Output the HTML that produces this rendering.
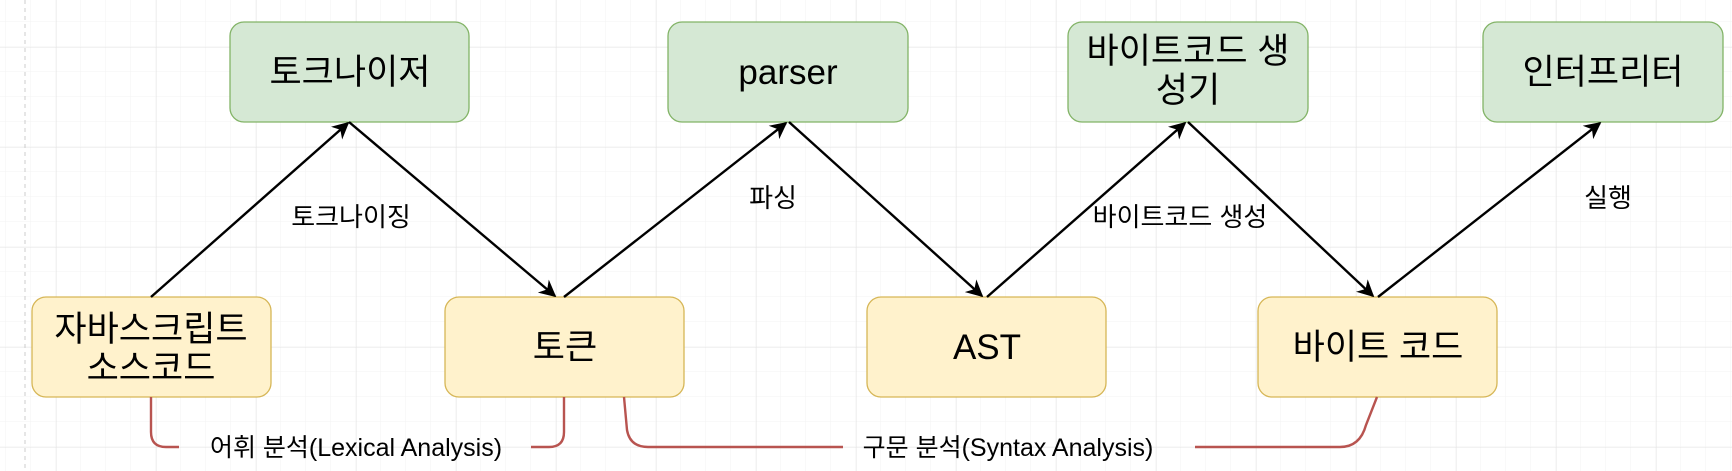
<!DOCTYPE html>
<html><head><meta charset="utf-8"><style>
html,body{margin:0;padding:0;background:#fff;}
svg{display:block}
text{font-family:"Liberation Sans","Noto Sans CJK KR",sans-serif;fill:#000}
</style></head><body>
<svg width="1732" height="471" viewBox="0 0 1732 471" xmlns="http://www.w3.org/2000/svg">
<defs>
<pattern id="minor" width="25" height="25" patternUnits="userSpaceOnUse" x="6" y="22">
<path d="M25 0V25M0 25H25" stroke="#f3f3f3" stroke-width="1" fill="none"/>
</pattern>
<pattern id="major" width="100" height="100" patternUnits="userSpaceOnUse" x="56" y="47">
<path d="M0 0V100M0 0H100" stroke="#e4e4e4" stroke-width="1" fill="none"/>
</pattern>
<marker id="ah" viewBox="0 0 10 10" refX="9" refY="5" markerWidth="17" markerHeight="17" markerUnits="userSpaceOnUse" orient="auto">
<path d="M0 0L10 5L0 10L3 5Z" fill="#000"/>
</marker>
</defs>
<rect width="1732" height="471" fill="url(#minor)"/>
<rect width="1732" height="471" fill="url(#major)"/>
<line x1="25" y1="0" x2="25" y2="471" stroke="#ccc" stroke-dasharray="4 4"/>

<g stroke-width="1.3">
<rect x="230" y="22" width="239" height="100" rx="14" fill="#d5e8d4" stroke="#82b366"/>
<rect x="668" y="22" width="240" height="100" rx="14" fill="#d5e8d4" stroke="#82b366"/>
<rect x="1068" y="22" width="240" height="100" rx="14" fill="#d5e8d4" stroke="#82b366"/>
<rect x="1483" y="22" width="240" height="100" rx="14" fill="#d5e8d4" stroke="#82b366"/>
<rect x="32" y="297" width="239" height="100" rx="14" fill="#fff2cc" stroke="#d6b656"/>
<rect x="445" y="297" width="239" height="100" rx="14" fill="#fff2cc" stroke="#d6b656"/>
<rect x="867" y="297" width="239" height="100" rx="14" fill="#fff2cc" stroke="#d6b656"/>
<rect x="1258" y="297" width="239" height="100" rx="14" fill="#fff2cc" stroke="#d6b656"/>
</g>

<g stroke="#000" stroke-width="2.4" fill="none" marker-end="url(#ah)">
<line x1="151" y1="297" x2="348" y2="123"/>
<line x1="349" y1="122" x2="555" y2="296"/>
<line x1="564" y1="297" x2="786" y2="123"/>
<line x1="789" y1="122" x2="982" y2="296"/>
<line x1="987" y1="297" x2="1185" y2="123"/>
<line x1="1188" y1="122" x2="1373" y2="296"/>
<line x1="1378" y1="297" x2="1600" y2="123"/>
</g>

<g stroke="#b85450" stroke-width="2.4" fill="none">
<path d="M151 397V432Q151 447 166 447H179"/>
<path d="M531 447H549Q564 447 564 432V397"/>
<path d="M624 397L627 430Q630 447 648 447H843"/>
<path d="M1195 447H1340Q1360 447 1366 425L1377 397"/>
</g>

<g font-size="35" text-anchor="middle">
<text x="350" y="84">토크나이저</text>
<text x="788" y="84">parser</text>
<text x="1188" y="63">바이트코드 생</text>
<text x="1188" y="102">성기</text>
<text x="1603" y="84">인터프리터</text>
<text x="151" y="341">자바스크립트</text>
<text x="151" y="380">소스코드</text>
<text x="565" y="359">토큰</text>
<text x="987" y="359">AST</text>
<text x="1378" y="359">바이트 코드</text>
</g>

<g font-size="26" text-anchor="middle">
<text x="351" y="226">토크나이징</text>
<text x="773" y="207">파싱</text>
<text x="1180" y="226">바이트코드 생성</text>
<text x="1608" y="207">실행</text>
</g>
<g font-size="25" text-anchor="middle">
<text x="356" y="456">어휘 분석(Lexical Analysis)</text>
<text x="1008" y="456">구문 분석(Syntax Analysis)</text>
</g>
</svg>
</body></html>
